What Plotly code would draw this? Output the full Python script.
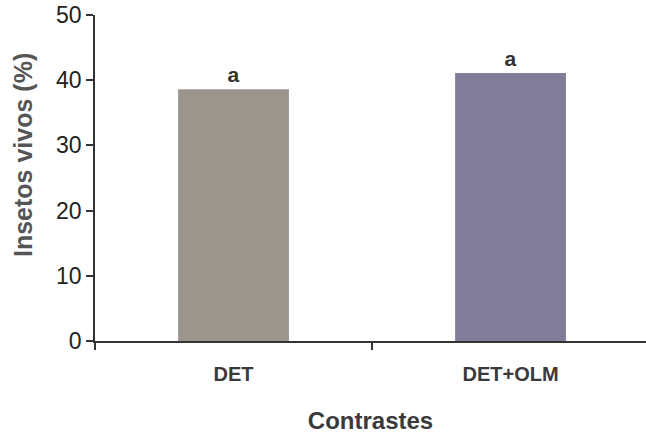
import plotly.graph_objects as go

categories = ["DET", "DET+OLM"]
values = [38.6, 41.1]
letters = ["a", "a"]
bar_colors = ["#9b958e", "#817c98"]
y_title = "Insetos vivos (%)"
x_title = "Contrastes"

fig = go.Figure()
fig.add_trace(go.Bar(
    x=categories, y=values, width=0.40,
    marker=dict(color=bar_colors, line=dict(width=0)),
    text=letters, textposition="outside", cliponaxis=False,
    textfont=dict(family="Liberation Sans, Arial", size=21, color="#333"),
    texttemplate="<b>%{text}</b>",
))

fig.update_layout(
    width=646, height=434,
    margin=dict(l=95, r=0, t=15, b=93),
    paper_bgcolor="white", plot_bgcolor="white",
    showlegend=False,
    font=dict(family="Liberation Sans, Arial", color="#222"),
)
fig.add_annotation(
    text="<b>" + y_title + "</b>", textangle=-90,
    xref="paper", yref="paper", x=(23 - 95) / 551, y=(341 - 155) / 326,
    xanchor="center", yanchor="middle", showarrow=False,
    font=dict(family="Liberation Sans, Arial", size=25, color="#555"),
)
fig.update_xaxes(
    type="category", range=[-0.5, 1.489],
    showline=True, linecolor="#333", linewidth=1.5,
    ticks="outside", tickson="boundaries", ticklen=7, tickcolor="#333", tickwidth=1.5,
    tickfont=dict(size=20, color="#3a3a3a"), ticklabelstandoff=14,
    tickprefix="<b>", ticksuffix="</b>",
    title=dict(text="<b>" + x_title + "</b>", font=dict(size=24, color="#3a3a3a"), standoff=28),
    showgrid=False, zeroline=False,
)
fig.update_yaxes(
    range=[0, 50], tickvals=[0, 10, 20, 30, 40, 50],
    showline=True, linecolor="#333", linewidth=1.5,
    ticks="outside", ticklen=7, tickcolor="#333", tickwidth=1.5,
    tickfont=dict(size=23, color="#222"),
    showgrid=False, zeroline=False,
)

fig.write_html("out.html")
